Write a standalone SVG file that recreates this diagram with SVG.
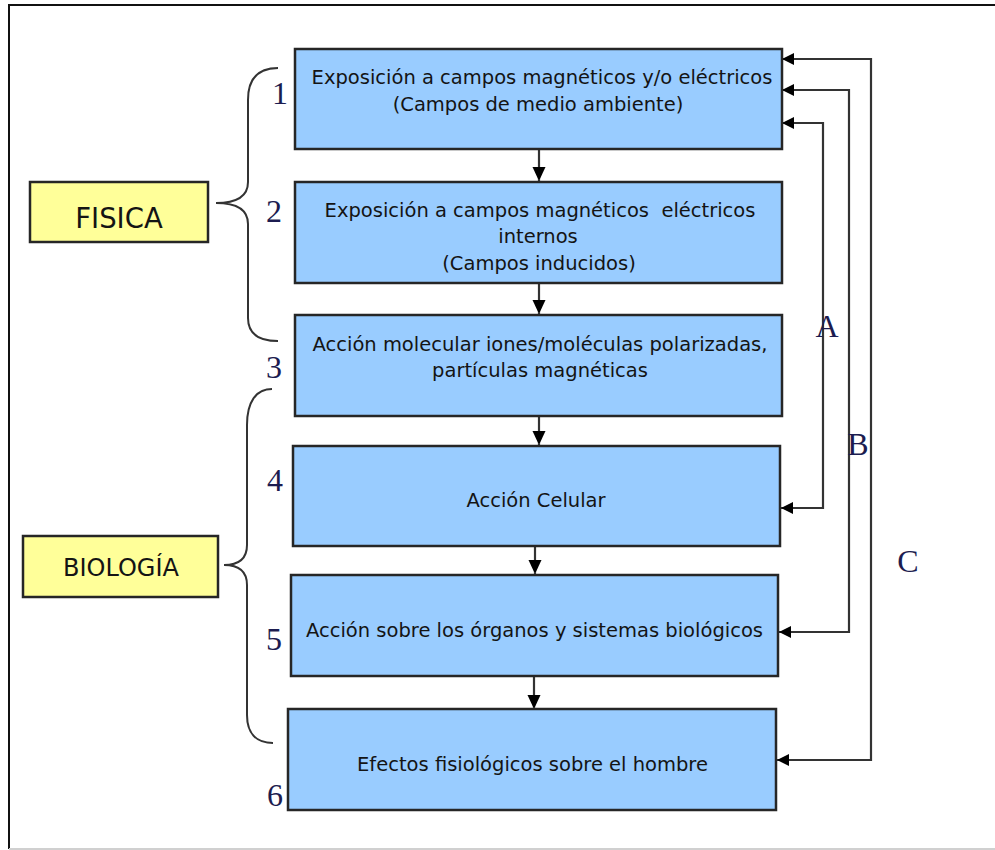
<svg xmlns="http://www.w3.org/2000/svg" width="995" height="850" viewBox="0 0 995 850">
<style>
.box{fill:#99ccff;stroke:#262626;stroke-width:2.5}
.ybox{fill:#ffff99;stroke:#262626;stroke-width:2.5}
.t{font-family:"DejaVu Sans",Verdana,sans-serif;font-size:19.5px;fill:#141414;text-anchor:middle}
.big{font-family:"DejaVu Sans",Verdana,sans-serif;fill:#141414;text-anchor:middle}
.num{font-family:"Liberation Serif","Times New Roman",serif;font-size:32px;fill:#1c1c50;text-anchor:middle}
.brace{fill:none;stroke:#333;stroke-width:2}
.conn{fill:none;stroke:#333;stroke-width:2.2}
</style>
<defs>
<marker id="ah" viewBox="0 0 12 12" refX="12" refY="6" markerWidth="12" markerHeight="12" markerUnits="userSpaceOnUse" orient="auto-start-reverse">
<path d="M0,0 L12,6 L0,12 z" fill="#000"/>
</marker>
<marker id="ahd" viewBox="0 0 12 14" refX="14" refY="6.5" markerWidth="12" markerHeight="14" markerUnits="userSpaceOnUse" orient="auto">
<path d="M0,0 L14,6.5 L0,13 z" fill="#000"/>
</marker>
</defs>
<g id="frame">
<line x1="8" y1="5" x2="995" y2="5" stroke="#111" stroke-width="2"/>
<line x1="9" y1="5" x2="9" y2="849" stroke="#111" stroke-width="2"/>
<line x1="9" y1="849" x2="995" y2="849" stroke="#d0d0d0" stroke-width="2"/>
</g>
<g id="connectors">
<line class="conn" x1="539" y1="149" x2="539" y2="181" marker-end="url(#ahd)"/>
<line class="conn" x1="539" y1="283" x2="539" y2="314" marker-end="url(#ahd)"/>
<line class="conn" x1="539" y1="416" x2="539" y2="445" marker-end="url(#ahd)"/>
<line class="conn" x1="535" y1="546" x2="535" y2="574" marker-end="url(#ahd)"/>
<line class="conn" x1="534" y1="676" x2="534" y2="709" marker-end="url(#ahd)"/>
<path id="loopA" class="conn" d="M782,123 L823,123 L823,508 L781,508" marker-start="url(#ah)" marker-end="url(#ah)"/>
<path id="loopB" class="conn" d="M782,90 L849,90 L849,632 L779,632" marker-start="url(#ah)" marker-end="url(#ah)"/>
<path id="loopC" class="conn" d="M782,59 L871,59 L871,760 L777,760" marker-start="url(#ah)" marker-end="url(#ah)"/>
<text class="num" x="827" y="337">A</text>
<text class="num" x="858" y="455">B</text>
<text class="num" x="908" y="572">C</text>
</g>
<g id="fisica">
<rect class="ybox" x="30" y="182" width="178" height="60"/>
<text class="big" x="119" y="228" font-size="27.5">FISICA</text>
<path class="brace" d="M278,68 C258,68 248,78 248,100 L248,182 C248,196 238,203 216,203 C238,203 248,210 248,224 L248,318 C248,333 258,341 278,341"/>
</g>
<g id="biologia">
<rect class="ybox" x="23" y="536" width="195" height="61"/>
<text class="big" x="121" y="576" font-size="24">BIOLOGÍA</text>
<path class="brace" d="M272,389 C256,389 247,402 247,425 L247,545 C247,558 240,565 224,565 C240,565 247,572 247,585 L247,715 C247,733 256,743 273,743"/>
</g>
<g id="numbers">
<text class="num" x="280" y="104">1</text>
<text class="num" x="274" y="222">2</text>
<text class="num" x="274" y="378">3</text>
<text class="num" x="275" y="491">4</text>
<text class="num" x="274" y="650">5</text>
<text class="num" x="275" y="806">6</text>
</g>
<g id="node1">
<rect class="box" x="295" y="49" width="487" height="100"/>
<text class="t" x="542" y="84">Exposición a campos magnéticos y/o eléctricos</text>
<text class="t" x="538" y="111">(Campos de medio ambiente)</text>
</g>
<g id="node2">
<rect class="box" x="295" y="182" width="487" height="101"/>
<text class="t" x="540" y="217">Exposición a campos magnéticos&#160; eléctricos</text>
<text class="t" x="538" y="243">internos</text>
<text class="t" x="539" y="270">(Campos inducidos)</text>
</g>
<g id="node3">
<rect class="box" x="295" y="315" width="487" height="101"/>
<text class="t" x="540" y="351">Acción molecular iones/moléculas polarizadas,</text>
<text class="t" x="540" y="377">partículas magnéticas</text>
</g>
<g id="node4">
<rect class="box" x="293" y="446" width="487" height="100"/>
<text class="t" x="536" y="507">Acción Celular</text>
</g>
<g id="node5">
<rect class="box" x="291" y="575" width="487" height="101"/>
<text class="t" x="534.5" y="637">Acción sobre los órganos y sistemas biológicos</text>
</g>
<g id="node6">
<rect class="box" x="288" y="709" width="488" height="101"/>
<text class="t" x="532.5" y="771">Efectos fisiológicos sobre el hombre</text>
</g>
</svg>
